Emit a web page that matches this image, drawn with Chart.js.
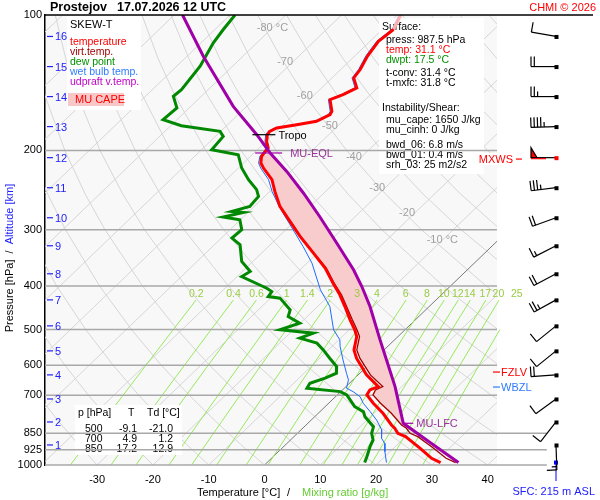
<!DOCTYPE html>
<html>
<head>
<meta charset="utf-8">
<script src="https://cdn.jsdelivr.net/npm/chart.js@4.4.1/dist/chart.umd.min.js"></script>
<style>
  body { margin: 0; background: #fff; }
</style>
</head>
<body>
<canvas id="chart" width="600" height="500"></canvas>
<script>
// sounding data (pressure in hPa, temperature in degC)
const tempP = [100, 107.7, 114.4, 123.5, 132.2, 138.0, 145.2, 150.3, 154.2, 163.7, 166.5, 172.3, 175.3, 178.2, 181.4, 184.5, 190.9, 197.4, 206.2, 213.3, 218.8, 232.3, 246.6, 266.3, 287.6, 310.5, 338.1, 365.1, 394.3, 418.6, 444.5, 475.7, 500.7, 518.2, 554.9, 579.0, 630.6, 669.6, 681.0, 698.8, 729.1, 767.4, 814.8, 828.8, 850.3, 865.0, 918.1, 966.3, 987.5];
const tempT = [-59.4, -58.0, -58.5, -57.7, -56.5, -56.1, -53.7, -54.9, -56.3, -53.8, -53.5, -54.7, -57.6, -60.6, -61.2, -61.0, -59.9, -58.4, -58.0, -56.9, -55.5, -51.8, -49.1, -45.4, -40.8, -36.2, -30.7, -25.8, -21.6, -18.2, -15.1, -11.7, -9.0, -7.4, -5.4, -3.4, 1.5, 5.8, 4.9, 5.3, 8.0, 11.6, 15.3, 16.5, 18.0, 20.0, 24.8, 28.7, 31.1];
const virtT = [-59.4, -58.0, -58.5, -57.7, -56.5, -56.1, -53.7, -54.9, -56.3, -53.8, -53.5, -54.7, -57.6, -60.6, -61.2, -61.0, -59.9, -58.4, -58.0, -56.9, -55.5, -51.8, -49.1, -45.4, -40.7, -36.1, -30.6, -25.6, -21.4, -17.9, -14.8, -11.3, -8.6, -6.9, -4.9, -2.8, 2.2, 6.6, 5.9, 6.4, 9.3, 13.1, 17.1, 18.6, 20.2, 22.2, 27.2, 31.3, 33.8];

const dewP = [100, 107.7, 115.3, 130.0, 146.5, 151.6, 160.9, 170.8, 176.2, 181.4, 186.1, 199.2, 204.4, 218.8, 232.3, 244.4, 253.0, 266.3, 273.2, 274.6, 281.2, 285.1, 300.0, 313.1, 324.0, 352.9, 371.5, 381.2, 401.2, 404.5, 411.7, 422.3, 425.8, 452.1, 467.9, 484.0, 500.7, 509.3, 522.4, 536.0, 554.9, 579.0, 604.4, 625.2, 641.4, 658.0, 675.1, 686.9, 698.8, 741.9, 761.1, 780.9, 822.0, 850.3, 879.8, 910.6, 958.4, 987.5];
const dewT = [-89.1, -88.5, -87.8, -85.8, -84.8, -85.0, -82.2, -82.5, -78.1, -70.1, -68.6, -68.2, -62.5, -59.4, -56.0, -52.7, -51.1, -50.8, -53.1, -50.8, -53.6, -50.1, -47.9, -48.1, -45.4, -42.0, -38.6, -39.2, -33.5, -32.6, -31.0, -30.7, -28.3, -24.3, -23.4, -20.1, -22.4, -15.8, -17.3, -13.3, -10.9, -8.2, -5.4, -4.2, -5.3, -7.1, -6.7, -0.1, 1.7, 5.3, 7.8, 9.0, 12.4, 13.3, 14.8, 15.5, 16.8, 17.5];

const wetP = [100, 107.7, 114.4, 123.5, 132.2, 138.0, 145.2, 150.3, 154.2, 163.7, 166.5, 172.3, 175.3, 178.2, 181.4, 184.5, 190.9, 197.4, 206.2, 213.3, 218.8, 232.3, 246.6, 264.0, 280.4, 300.0, 326.8, 355.9, 408.1, 444.5, 500.7, 527.1, 545.6, 584.1, 625.2, 647.0, 675.1, 686.9, 704.9, 729.1, 761.1, 794.2, 836.0, 872.2, 894.9, 934.2, 987.5];
const wetT = [-59.7, -58.3, -58.8, -58.0, -56.8, -56.4, -54.0, -55.2, -56.6, -54.1, -53.8, -55.0, -57.9, -60.9, -61.5, -61.3, -60.2, -58.7, -58.3, -57.3, -56.0, -52.4, -49.6, -46.0, -42.6, -38.7, -33.8, -29.1, -22.6, -17.8, -12.8, -9.8, -8.5, -5.5, -2.4, -0.8, 0.4, 2.2, 4.4, 6.2, 9.0, 11.7, 14.5, 16.0, 17.5, 19.1, 21.4];

const parcelP = [100, 123.5, 159.6, 184.5, 202.6, 222.6, 248.6, 280.4, 321.2, 368.3, 401.2, 444.5, 527.1, 584.1, 669.6, 780.9, 807.8, 893.5, 987.5];
const parcelT = [-98.5, -87.1, -72.4, -62.9, -57.1, -50.7, -43.7, -36.4, -28.4, -20.4, -15.8, -10.6, -2.6, 2.3, 8.8, 15.6, 17.1, 25.7, 34.3];

const elP = 202.6, lfcP = 807.8;

// altitude marks and winds (km, hPa, deg, kt)
const altKm = [16, 15, 14, 13, 12, 11, 10, 9, 8, 7, 6, 5, 4, 3, 2, 1];
const altP = [111.6, 130.2, 151.8, 177.0, 207.5, 242.0, 282.2, 325.7, 375.9, 429.6, 490.7, 557.7, 630.6, 713.3, 802.4, 902.6];
const windDir = [280, 270, 270, 268, 270, 263, 250, 243, 242, 241, 231, 231, 266, 234, 218, 178];
const windSpd = [10, 20, 25, 45, 50, 35, 20, 15, 20, 25, 10, 10, 20, 10, 10, 15];
const maxWindKm = 12;
const sfcP = 987.5;

// labelled levels
const levelName = ['Tropo', 'MU-EQL', 'MU-LFC'];
const levelP = [184.5, 202.6, 807.8];
const levelT = [-61.0, -57.1, 17.1];
const sideName = ['MXWS', 'FZLV', 'WBZL'];
const sideP = [209, 621.5, 671];

// table
const tabP = [500, 700, 850];
const tabT = ['-9.1', '4.9', '17.2'];
const tabTd = ['-21.0', '1.2', '12.9'];

// diagram grid
const pTicks = [100, 200, 300, 400, 500, 600, 700, 850, 925, 1000];
const isobars = [200, 300, 400, 500, 600, 700, 850, 925, 1000];
const xTicks = [-30, -20, -10, 0, 10, 20, 30, 40];
const isotherms = [-120, -110, -100, -90, -80, -70, -60, -50, -40, -30, -20, -10, 0, 10, 20, 30, 40];
const isoLabT = [-80, -70, -60, -50, -40, -30, -20, -10];
const isoLabP = [106.6, 126.9, 151.6, 176.3, 206.3, 242.0, 275.0, 316.0];
const thetas = [-30, -20, -10, 0, 10, 20, 30, 40, 50, 60, 70, 80, 90, 100, 110, 120, 130, 140, 150, 160, 170];
const adiabatP = [1000, 900, 800, 700, 600, 500, 400, 300, 250, 200, 150, 125, 100];
const mixW = [0.2, 0.4, 0.6, 1, 1.4, 2, 3, 4, 6, 8, 10, 12, 14, 17, 20, 25];
const mixP = [1000, 900, 800, 700, 600, 500, 430];

const SKEW = 36.4;
const xMin = -39.34, xMax = 41.67, xMaxLow = 50.6;
const FONT = '"Liberation Sans", Arial, sans-serif';

const skewX = (t, p) => t + SKEW * Math.log(1000 / p);
const pts = (ps, ts) => ps.map((p, i) => ({x: skewX(ts[i], p), y: p}));
const dewFromW = (w, p) => {
    const e = w * p / (622 + w);
    const a = Math.log(e / 6.112);
    return 243.5 * a / (17.67 - a);
};

function line(data, color, width, order, extra) {
    return Object.assign({data: data, borderColor: color, borderWidth: width, order: order,
        showLine: true, pointRadius: 0, fill: false, tension: 0}, extra || {});
}

const datasets = [];
isotherms.forEach(t => {
    datasets.push(line([{x: skewX(t, 1000), y: 1000}, {x: skewX(t, 100), y: 100}],
        t === 0 ? '#7a7a7a' : '#d6d6d6', 1, 20));
});
thetas.forEach(th => {
    const d = adiabatP.map(p => ({x: skewX((th + 273.15) * Math.pow(p / 1000, 0.2857) - 273.15, p), y: p}));
    datasets.push(line(d, '#d6d6d6', 1, 20));
});
mixW.forEach(w => {
    const d = mixP.map(p => ({x: skewX(dewFromW(w, p), p), y: p}));
    datasets.push(line(d, '#96ea5e', 1, 19, {clip: {left: 0, top: 0, right: 40, bottom: 2}}));
});
isobars.forEach(p => {
    datasets.push(line([{x: xMin, y: p}, {x: p >= 850 ? xMaxLow : xMax, y: p}], '#a8a8a8', 1.5, 9,
        {isobar: true, clip: {left: 0, top: 2, right: 60, bottom: 2}}));
});

// MU CAPE area: parcel from LFC to EL, back along virtual temperature
const capeUp = parcelP.map((p, i) => ({p: p, t: parcelT[i]})).filter(o => o.p >= elP && o.p <= lfcP).reverse();
const capeDown = tempP.map((p, i) => ({p: p, t: virtT[i]})).filter(o => o.p >= elP && o.p <= lfcP + 8);
const capePts = capeUp.concat(capeDown).map(o => ({x: skewX(o.t, o.p), y: o.p}));
capePts.push(capePts[0]);
datasets.push(line(capePts, 'rgba(0,0,0,0)', 0, 8, {fill: 'shape', backgroundColor: '#f8cccc'}));

const topColor = (light, normal) => ({borderColor: ctx => ctx.p1.parsed.y < 113 ? light : normal});
datasets.push(line(pts(wetP, wetT), '#1f6bff', 1, 7, {segment: topColor('#b4ccff', '#1f6bff')}));
datasets.push(line(pts(tempP, virtT), '#a00000', 1.3, 6));
datasets.push(line(pts(tempP, tempT), '#ff0000', 3, 5, {segment: topColor('#ffb0b0', '#ff0000')}));
datasets.push(line(pts(dewP, dewT), '#008800', 3, 4));
datasets.push(line(pts(parcelP, parcelT), '#a000a8', 3, 3));

function txt(ctx, s, x, y, color, size, align, bold) {
    ctx.font = (bold ? 'bold ' : '') + (size || 11) + 'px ' + FONT;
    ctx.fillStyle = color || '#000';
    ctx.textAlign = align || 'left';
    ctx.textBaseline = 'middle';
    ctx.fillText(s, x, y);
}

function drawBarb(ctx, x, y, dir, spd, color, flagColor) {
    const r = dir * Math.PI / 180;
    const ux = Math.sin(r), uy = -Math.cos(r);
    const bx = -uy, by = ux;
    const L = 25, bl = 10, sp = 3.3;
    const ex = x + ux * L, ey = y + uy * L;
    ctx.strokeStyle = color;
    ctx.fillStyle = color;
    ctx.lineWidth = 1.2;
    ctx.beginPath();
    ctx.moveTo(x, y);
    ctx.lineTo(ex, ey);
    ctx.stroke();
    ctx.fillStyle = flagColor || color;
    ctx.fillRect(x - 1.5, y - 1.5, 4, 4);
    let s = Math.round(spd / 5) * 5;
    let pos = 0;
    while (s >= 50) {
        const ax = ex - ux * pos, ay = ey - uy * pos;
        ctx.fillStyle = flagColor || color;
        ctx.beginPath();
        ctx.moveTo(ax, ay);
        ctx.lineTo(ax + bx * bl, ay + by * bl);
        ctx.lineTo(ax - ux * 6, ay - uy * 6);
        ctx.closePath();
        ctx.fill();
        ctx.stroke();
        if (flagColor) {
            ctx.strokeStyle = flagColor;
            ctx.beginPath();
            ctx.moveTo(ax, ay + 1);
            ctx.lineTo(ax - ux * 15, ay - uy * 15 + 1);
            ctx.stroke();
            ctx.strokeStyle = color;
        }
        pos += 7;
        s -= 50;
    }
    while (s >= 10) {
        const ax = ex - ux * pos, ay = ey - uy * pos;
        ctx.beginPath();
        ctx.moveTo(ax, ay);
        ctx.lineTo(ax + bx * bl, ay + by * bl);
        ctx.stroke();
        pos += sp;
        s -= 10;
    }
    if (s >= 5) {
        if (pos === 0) pos = sp;
        const ax = ex - ux * pos, ay = ey - uy * pos;
        ctx.beginPath();
        ctx.moveTo(ax, ay);
        ctx.lineTo(ax + bx * bl / 2, ay + by * bl / 2);
        ctx.stroke();
    }
}

const skewPlugin = {
    id: 'skew',
    beforeDraw(chart) {
        const ctx = chart.ctx, a = chart.chartArea;
        ctx.save();
        ctx.fillStyle = '#ffffff';
        ctx.fillRect(0, 0, chart.width, chart.height);
        ctx.fillStyle = '#f8f8f8';
        ctx.fillRect(a.left, a.top, a.right - a.left, a.bottom - a.top);
        ctx.restore();
        chart.$boxes = false;
    },
    beforeDatasetDraw(chart, args) {
        if (chart.$boxes || !chart.data.datasets[args.index].isobar) return;
        chart.$boxes = true;
        const ctx = chart.ctx, xs = chart.scales.x, ys = chart.scales.y;
        ctx.save();
        ctx.fillStyle = '#ffffff';
        ctx.fillRect(67, 16, 74, 94);
        ctx.fillRect(379, 18, 105, 156);
        ctx.fillRect(75, 405, 107, 50);
        // isotherm labels
        isoLabT.forEach((t, i) => {
            const x = xs.getPixelForValue(skewX(t, isoLabP[i])) - 16;
            const s = (t === -80 || t === -10) ? t + ' \u00b0C' : String(t);
            txt(ctx, s, x, ys.getPixelForValue(isoLabP[i]), '#a0a0a0', 11);
        });
        // legend
        txt(ctx, 'SKEW-T', 70, 25, '#000', 11);
        txt(ctx, 'temperature', 70, 42, '#ff0000', 10.5);
        txt(ctx, 'virt.temp.', 70, 52, '#a00000', 10.5);
        txt(ctx, 'dew point', 70, 62, '#009000', 10.5);
        txt(ctx, 'wet bulb temp.', 70, 72, '#2f7bff', 10.5);
        txt(ctx, 'udpraft v.temp.', 70, 82, '#c000c8', 10.5);
        ctx.fillStyle = '#f8c8c8';
        ctx.fillRect(68, 93, 56, 13);
        txt(ctx, 'MU CAPE', 75, 100, '#ff0000', 11);
        // surface / instability box
        txt(ctx, 'Surface:', 382, 27, '#000', 10.5);
        txt(ctx, 'press: 987.5 hPa', 386, 40, '#000', 10.5);
        txt(ctx, 'temp: 31.1 \u00b0C', 386, 50, '#ff0000', 10.5);
        txt(ctx, 'dwpt: 17.5 \u00b0C', 386, 60, '#009000', 10.5);
        txt(ctx, 't-conv: 31.4 \u00b0C', 386, 73, '#000', 10.5);
        txt(ctx, 't-mxfc: 31.8 \u00b0C', 386, 83, '#000', 10.5);
        txt(ctx, 'Instability/Shear:', 382, 108, '#000', 10.5);
        txt(ctx, 'mu_cape: 1650 J/kg', 386, 120, '#000', 10.5);
        txt(ctx, 'mu_cinh: 0 J/kg', 386, 130, '#000', 10.5);
        txt(ctx, 'bwd_06: 6.8 m/s', 386, 145, '#000', 10.5);
        txt(ctx, 'bwd_01: 0.4 m/s', 386, 155, '#000', 10.5);
        txt(ctx, 'srh_03: 25 m2/s2', 386, 165, '#000', 10.5);
        // table
        txt(ctx, 'p [hPa]', 78, 413, '#000', 10.5);
        txt(ctx, 'T', 128, 413, '#000', 10.5);
        txt(ctx, 'Td [\u00b0C]', 147, 413, '#000', 10.5);
        tabP.forEach((p, i) => {
            const y = 429 + i * 10;
            txt(ctx, String(p), 85, y, '#000', 10.5);
            txt(ctx, tabT[i], 137, y, '#000', 10.5, 'right');
            txt(ctx, tabTd[i], 173, y, '#000', 10.5, 'right');
        });
        ctx.restore();
    },
    afterDatasetsDraw(chart) {
        const ctx = chart.ctx, xs = chart.scales.x, ys = chart.scales.y, a = chart.chartArea;
        ctx.save();
        // top frame line
        ctx.strokeStyle = '#000';
        ctx.lineWidth = 1.5;
        ctx.beginPath();
        ctx.moveTo(a.left, a.top);
        ctx.lineTo(593, a.top);
        ctx.stroke();
        // mixing ratio labels
        mixW.forEach(w => {
            const x = xs.getPixelForValue(skewX(dewFromW(w, 418), 418)) - 4;
            txt(ctx, String(w), x, ys.getPixelForValue(418), '#99cc44', 10.5, 'center');
        });
        // altitude ticks
        altKm.forEach((k, i) => {
            const y = ys.getPixelForValue(altP[i]);
            ctx.strokeStyle = '#2020ff';
            ctx.lineWidth = 1.2;
            ctx.beginPath();
            ctx.moveTo(47, y);
            ctx.lineTo(53, y);
            ctx.stroke();
            txt(ctx, String(k), 55, y + 1, '#2020ff', 11);
        });
        // level markers
        levelName.forEach((n, i) => {
            const x = xs.getPixelForValue(skewX(levelT[i], levelP[i]));
            const y = ys.getPixelForValue(levelP[i]);
            const col = i === 0 ? '#000' : '#a000a8';
            const x0 = i === 2 ? x : x - 15, x1 = i === 2 ? x + 10 : x + (i === 0 ? 8 : 12);
            ctx.strokeStyle = col;
            ctx.lineWidth = 1.2;
            ctx.beginPath();
            ctx.moveTo(x0, y);
            ctx.lineTo(x1, y);
            ctx.stroke();
            txt(ctx, n, x1 + (i === 1 ? 8 : 3), y + 1, i === 0 ? '#000' : '#993399', 11);
        });
        // side labels
        sideName.forEach((n, i) => {
            const y = ys.getPixelForValue(sideP[i]);
            const col = i === 2 ? '#2f7bff' : '#ff0000';
            if (i === 0) {
                ctx.fillStyle = '#fff';
                ctx.fillRect(482, y - 6, 33, 12);
                txt(ctx, n, 513, y + 1, col, 11, 'right');
                ctx.strokeStyle = col;
                ctx.lineWidth = 1.2;
                ctx.beginPath();
                ctx.moveTo(516, y);
                ctx.lineTo(522, y);
                ctx.stroke();
            } else {
                ctx.fillStyle = '#fff';
                ctx.fillRect(499, y - 6, 32, 12);
                ctx.strokeStyle = col;
                ctx.lineWidth = 1.2;
                ctx.beginPath();
                ctx.moveTo(493, y);
                ctx.lineTo(500, y);
                ctx.stroke();
                txt(ctx, n, 501, y + 1, col, 11);
            }
        });
        // surface marker
        const ys0 = ys.getPixelForValue(sfcP);
        ctx.strokeStyle = '#0000ff';
        ctx.lineWidth = 1;
        ctx.beginPath();
        ctx.moveTo(556, ys0);
        ctx.lineTo(556, 481);
        ctx.stroke();
        ctx.fillStyle = '#0000ff';
        ctx.fillRect(554, ys0 - 2, 4, 4);
        // wind barbs
        altKm.forEach((k, i) => {
            const y = ys.getPixelForValue(altP[i]);
            drawBarb(ctx, 556, y, windDir[i], windSpd[i], '#000', k === maxWindKm ? '#ff0000' : null);
        });
        // titles
        txt(ctx, 'Prostejov', 50, 8, '#000', 12.5, 'left', true);
        txt(ctx, '17.07.2026 12 UTC', 117, 8, '#000', 12.5, 'left', true);
        txt(ctx, 'CHMI \u00a9 2026', 596, 8, '#ff0000', 11, 'right');
        txt(ctx, 'SFC: 215 m ASL', 595, 492, '#2020ff', 11, 'right');
        txt(ctx, 'Temperature [\u00b0C]', 197, 493, '#000', 11);
        txt(ctx, '/', 287, 493, '#000', 11);
        txt(ctx, 'Mixing ratio [g/kg]', 302, 493, '#66cc33', 11);
        ctx.translate(10, 258);
        ctx.rotate(-Math.PI / 2);
        ctx.font = '11px ' + FONT;
        const s1 = 'Pressure [hPa]', s2 = '  /  ', s3 = 'Altitude [km]';
        const w1 = ctx.measureText(s1).width, w2 = ctx.measureText(s2).width, w3 = ctx.measureText(s3).width;
        let sx = -(w1 + w2 + w3) / 2;
        txt(ctx, s1, sx, 0, '#000', 11);
        txt(ctx, s2, sx + w1, 0, '#000', 11);
        txt(ctx, s3, sx + w1 + w2, 0, '#2020ff', 11);
        ctx.restore();
    }
};

new Chart(document.getElementById('chart'), {
    type: 'scatter',
    data: {datasets: datasets},
    options: {
        responsive: false,
        animation: false,
        events: [],
        layout: {padding: {top: 15, right: 103, left: 0, bottom: 0}},
        plugins: {legend: {display: false}, tooltip: {enabled: false}},
        scales: {
            x: {
                type: 'linear', min: xMin, max: xMax,
                afterBuildTicks: s => { s.ticks = xTicks.map(v => ({value: v})); },
                afterFit: s => { s.height = 35; },
                grid: {display: false, drawTicks: false},
                border: {display: false},
                ticks: {color: '#000', font: {family: FONT, size: 11}, padding: 8, maxRotation: 0, autoSkip: false}
            },
            y: {
                type: 'logarithmic', reverse: true, min: 100, max: 1000,
                afterBuildTicks: s => { s.ticks = pTicks.map(v => ({value: v})); },
                afterFit: s => { s.width = 45; },
                grid: {display: false, drawTicks: false},
                border: {display: true, color: '#000', width: 1.5},
                ticks: {color: '#000', font: {family: FONT, size: 11}, padding: 3, autoSkip: false,
                    callback: v => String(v)}
            }
        }
    },
    plugins: [skewPlugin]
});
</script>
</body>
</html>
